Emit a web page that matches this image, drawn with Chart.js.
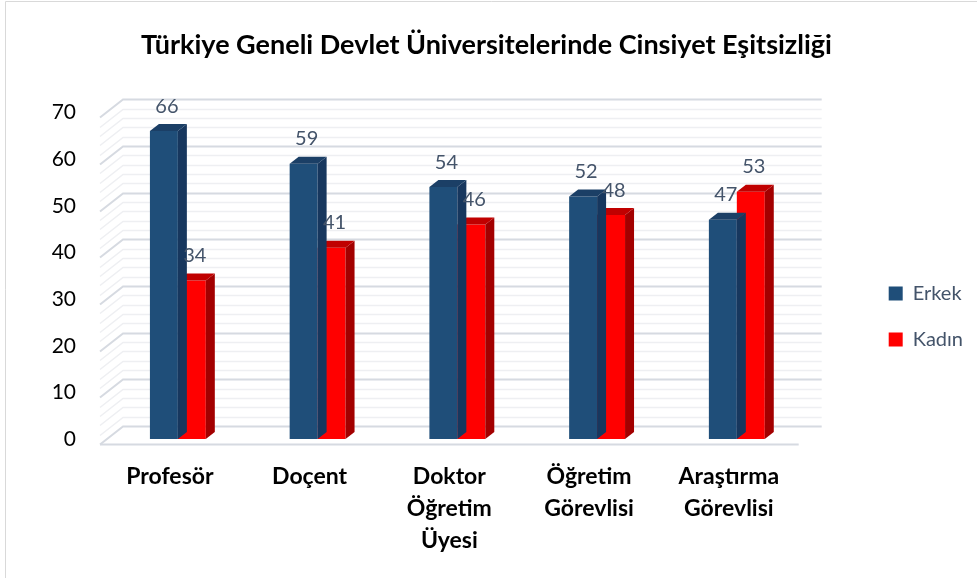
<!DOCTYPE html>
<html>
<head>
<meta charset="utf-8">
<script src="https://cdn.jsdelivr.net/npm/chart.js@4"></script>
<style>
  html, body { margin: 0; padding: 0; background: #fff; }
  #wrap { width: 977px; height: 578px; position: relative; }
</style>
</head>
<body>
<div id="wrap"><canvas id="grafik"></canvas></div>
<script>
// veriler
const kategoriler = [["Profesör"], ["Doçent"], ["Doktor", "Öğretim", "Üyesi"], ["Öğretim", "Görevlisi"], ["Araştırma", "Görevlisi"]];
const erkek = [66, 59, 54, 52, 47];
const kadin = [34, 41, 46, 48, 53];
const yMax = 70;
const yAdim = 10;

const FONT = "Lato, 'Open Sans', sans-serif";
const KAYMA = 8;      // barların kategori merkezine göre kayması
const DERIN_X = 9;    // bar derinliği
const DERIN_Y = -7;
const DUVAR_X = 23;   // arka duvar
const DUVAR_Y = -13;

const renkler = {
  erkek: { on: "#1F4E79", yan: "#17375E", ust: "#1B3F66" },
  kadin: { on: "#FF0000", yan: "#A30000", ust: "#C00000" },
};

const ucBoyut = {
  id: "ucBoyut",
  beforeDatasetsDraw(chart) {
    const { ctx, chartArea, scales } = chart;
    const y = scales.y;
    ctx.save();
    // çerçeve
    ctx.strokeStyle = "#D9D9D9";
    ctx.lineWidth = 1;
    ctx.beginPath();
    ctx.moveTo(5.5, 578);
    ctx.lineTo(5.5, 1.5);
    ctx.lineTo(977, 1.5);
    ctx.stroke();
    // duvar çizgileri
    for (let v = 0; v <= yMax; v += 2) {
      const py = Math.round(y.getPixelForValue(v)) + 0.5;
      ctx.strokeStyle = v % yAdim === 0 ? "#D6DAE1" : "#EEEFF2";
      ctx.lineWidth = v % yAdim === 0 ? 2 : 1.5;
      ctx.beginPath();
      ctx.moveTo(chartArea.left, py + 5);
      ctx.lineTo(chartArea.left + DUVAR_X, py + DUVAR_Y);
      ctx.lineTo(chartArea.right + DUVAR_X, py + DUVAR_Y);
      ctx.stroke();
    }
    // taban ön çizgisi
    const p0 = Math.round(y.getPixelForValue(0)) + 5.5;
    ctx.strokeStyle = "#D6DAE1";
    ctx.lineWidth = 2;
    ctx.beginPath();
    ctx.moveTo(chartArea.left, p0);
    ctx.lineTo(chartArea.right, p0);
    ctx.stroke();
    ctx.restore();
  },
  beforeDatasetDraw(chart) {
    chart.ctx.save();
    chart.ctx.translate(KAYMA, 0);
  },
  afterDatasetDraw(chart, args) {
    const ctx = chart.ctx;
    const r = args.index === 0 ? renkler.erkek : renkler.kadin;
    args.meta.data.forEach((bar) => {
      const sol = bar.x - bar.width / 2;
      const sag = bar.x + bar.width / 2;
      const ust = bar.y;
      const alt = bar.base;
      ctx.fillStyle = r.yan;
      ctx.beginPath();
      ctx.moveTo(sag, ust);
      ctx.lineTo(sag + DERIN_X, ust + DERIN_Y);
      ctx.lineTo(sag + DERIN_X, alt + DERIN_Y);
      ctx.lineTo(sag, alt);
      ctx.closePath();
      ctx.fill();
      ctx.fillStyle = r.ust;
      ctx.beginPath();
      ctx.moveTo(sol, ust);
      ctx.lineTo(sol + DERIN_X, ust + DERIN_Y);
      ctx.lineTo(sag + DERIN_X, ust + DERIN_Y);
      ctx.lineTo(sag, ust);
      ctx.closePath();
      ctx.fill();
    });
    ctx.restore();
  },
  afterDatasetsDraw(chart) {
    const ctx = chart.ctx;
    ctx.save();
    ctx.translate(KAYMA, 0);
    ctx.font = "20px " + FONT;
    ctx.fillStyle = "#44546A";
    ctx.textAlign = "center";
    ctx.textBaseline = "middle";
    chart.data.datasets.forEach((ds, i) => {
      chart.getDatasetMeta(i).data.forEach((bar, j) => {
        ctx.fillText(String(ds.data[j]), bar.x + 3, bar.y - 25);
      });
    });
    ctx.restore();
  },
};

new Chart(document.getElementById("grafik"), {
  type: "bar",
  data: {
    labels: kategoriler,
    datasets: [
      { label: "Erkek", data: erkek, backgroundColor: renkler.erkek.on },
      { label: "Kadın", data: kadin, backgroundColor: renkler.kadin.on },
    ],
  },
  options: {
    responsive: true,
    maintainAspectRatio: false,
    animation: false,
    layout: { padding: { left: 0, right: 4, top: 0, bottom: 7 } },
    datasets: { bar: { categoryPercentage: 0.4, barPercentage: 1.0 } },
    plugins: {
      title: {
        display: true,
        text: "Türkiye Geneli Devlet Üniversitelerinde Cinsiyet Eşitsizliği",
        color: "#000",
        font: { family: FONT, size: 27, weight: "bold" },
        padding: { top: 29, bottom: 51 },
      },
      legend: {
        position: "right",
        title: { display: true, text: "", font: { size: 1 }, padding: { top: 31, bottom: 30 } },
        labels: {
          boxWidth: 14,
          boxHeight: 14,
          padding: 26,
          color: "#44546A",
          font: { family: FONT, size: 20 },
        },
      },
      tooltip: { enabled: false },
    },
    scales: {
      x: {
        grid: { display: false },
        border: { display: false },
        ticks: {
          color: "#000",
          font: { family: FONT, size: 23, weight: "bold", lineHeight: 1.39 },
          padding: 14,
          maxRotation: 0,
          autoSkip: false,
        },
      },
      y: {
        min: 0,
        max: yMax,
        grid: { display: false },
        border: { display: false },
        afterFit(scale) { scale.width = 100; },
        ticks: {
          stepSize: yAdim,
          color: "#000",
          padding: 16,
          font: { family: FONT, size: 21 },
        },
      },
      bosluk: {
        position: "right",
        display: true,
        grid: { display: false },
        border: { display: false },
        ticks: { display: false },
        afterFit(scale) { scale.width = 64; },
      },
    },
  },
  plugins: [ucBoyut],
});
</script>
</body>
</html>
